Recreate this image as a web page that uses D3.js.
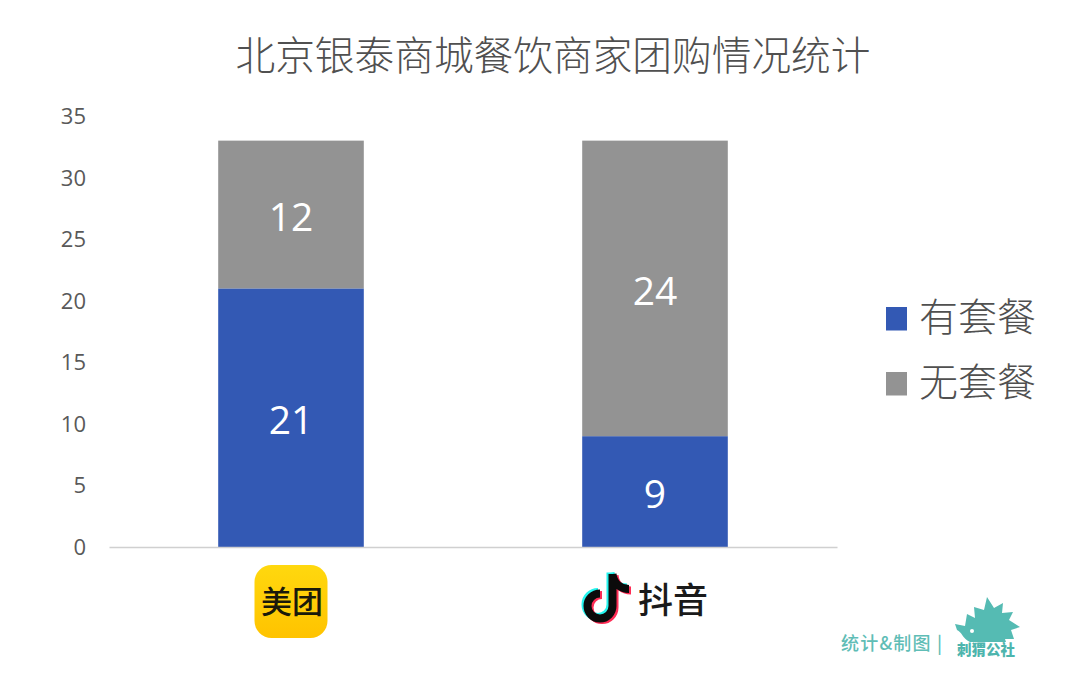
<!DOCTYPE html>
<meta charset="utf-8">
<style>
  html, body { margin: 0; background: #fff; }
  svg { display: block; }
  text { font-family: "Open Sans", "Noto Sans CJK SC", sans-serif; }
  .cjk { font-family: "Noto Sans CJK SC", sans-serif; }
  .axis--y .domain, .axis--y .tick line { display: none; }
  .axis--y text { font-size: 22px; fill: #595959; font-family: "Open Sans", sans-serif; }
  .axis--x .tick line, .axis--x .tick text { display: none; }
  .axis--x .domain { stroke: #d0d0d0; stroke-width: 1.5; }
</style>

<body>
  <script src="https://d3js.org/d3.v7.min.js"></script>
  <script>
    var categories = ['美团', '抖音'];
    var seriesNames = ['有套餐', '无套餐'];
    var withSet = [21, 9];
    var withoutSet = [12, 24];
    var yTicks = [0, 5, 10, 15, 20, 25, 30, 35];
    var title = '北京银泰商城餐饮商家团购情况统计';

    var colors = ['#3359B4', '#939393'];

    var margin = { top: 116, right: 235, bottom: 133, left: 109 },
      width = 1072 - margin.left - margin.right,
      height = 680 - margin.top - margin.bottom;

    var svg = d3.select('body').append('svg')
      .attr('width', 1072)
      .attr('height', 680);

    var g = svg.append('g')
      .attr('transform', 'translate(' + margin.left + ',' + margin.top + ')');

    var x = d3.scaleBand()
      .domain(categories)
      .range([0, width])
      .paddingInner(0.6)
      .paddingOuter(0.3);

    var y = d3.scaleLinear()
      .domain([0, 35])
      .range([height, 0]);

    // stack the two series
    var rows = categories.map(function (c, i) {
      return { cat: c, '有套餐': withSet[i], '无套餐': withoutSet[i] };
    });
    var stacked = d3.stack().keys(seriesNames)(rows);

    svg.append('text')
      .attr('class', 'cjk')
      .attr('x', 553)
      .attr('y', 70)
      .attr('text-anchor', 'middle')
      .style('font-size', '39.7px')
      .style('font-weight', 300)
      .style('fill', '#505050')
      .text(title);

    g.append('g')
      .attr('class', 'axis--y')
      .attr('transform', 'translate(-23,0.5)')
      .call(d3.axisLeft(y).tickValues(yTicks).tickSize(0).tickPadding(0));

    var layers = g.selectAll('.layer')
      .data(stacked)
      .enter()
      .append('g')
      .attr('class', 'layer')
      .style('fill', function (d, i) { return colors[i]; });

    layers.selectAll('rect')
      .data(function (d) { return d; })
      .enter()
      .append('rect')
      .attr('x', function (d) { return x(d.data.cat); })
      .attr('y', function (d) { return y(d[1]); })
      .attr('width', x.bandwidth())
      .attr('height', function (d) { return y(d[0]) - y(d[1]); });

    layers.selectAll('text')
      .data(function (d) { return d; })
      .enter()
      .append('text')
      .attr('x', function (d) { return x(d.data.cat) + x.bandwidth() / 2; })
      .attr('y', function (d) { return (y(d[0]) + y(d[1])) / 2; })
      .attr('dy', '0.43em')
      .attr('text-anchor', 'middle')
      .style('font-size', '39px')
      .style('fill', '#fff')
      .text(function (d) { return d[1] - d[0]; });

    g.append('g')
      .attr('class', 'axis--x')
      .attr('transform', 'translate(0,' + height + ')')
      .call(d3.axisBottom(x).tickSize(0).tickSizeOuter(0));

    // legend
    var legend = svg.selectAll('.legend')
      .data(seriesNames)
      .enter()
      .append('g')
      .attr('class', 'legend')
      .attr('transform', function (d, i) { return 'translate(886,' + (307 + i * 65) + ')'; });

    legend.append('rect')
      .attr('width', 21)
      .attr('height', 23.5)
      .style('fill', function (d, i) { return colors[i]; });

    legend.append('text')
      .attr('class', 'cjk')
      .attr('x', 33)
      .attr('y', 10)
      .attr('dy', '0.36em')
      .style('font-size', '39px')
      .style('font-weight', 300)
      .style('fill', '#505050')
      .text(function (d) { return d; });

    // meituan logo
    var defs = svg.append('defs');
    var grad = defs.append('linearGradient')
      .attr('id', 'mt')
      .attr('x1', 0).attr('y1', 0).attr('x2', 0).attr('y2', 1);
    grad.append('stop').attr('offset', 0).attr('stop-color', '#FFD80E');
    grad.append('stop').attr('offset', 1).attr('stop-color', '#FFC300');

    var mtX = margin.left + x(categories[0]) + x.bandwidth() / 2;
    svg.append('rect')
      .attr('x', mtX - 36.5)
      .attr('y', 565)
      .attr('width', 73)
      .attr('height', 73)
      .attr('rx', 17)
      .style('fill', 'url(#mt)');
    svg.append('text')
      .attr('class', 'cjk')
      .attr('x', mtX + 1)
      .attr('y', 602)
      .attr('dy', '0.37em')
      .attr('text-anchor', 'middle')
      .style('font-size', '31px')
      .style('font-weight', 500)
      .style('fill', '#1a1a0a')
      .text(categories[0]);

    // douyin logo: the note is drawn three times, offset
    var notePath = 'M 612.5 574 V 606 A 12.5 12.5 0 1 1 600 593.5 M 612.5 574 C 613.5 584 621 589 629 589';
    [['#25F4EE', -2, -1.5], ['#FE2C55', 2, 1.5], ['#0b0b0b', 0, 0]].forEach(function (n) {
      svg.append('path')
        .attr('d', notePath)
        .attr('transform', 'translate(' + n[1] + ',' + n[2] + ')')
        .style('fill', 'none')
        .style('stroke', n[0])
        .style('stroke-width', 8);
    });
    svg.append('text')
      .attr('class', 'cjk')
      .attr('x', 673)
      .attr('y', 600)
      .attr('dy', '0.37em')
      .attr('text-anchor', 'middle')
      .style('font-size', '35px')
      .style('font-weight', 500)
      .style('fill', '#1a1a1a')
      .text(categories[1]);

    // footer credit
    svg.append('text')
      .attr('class', 'cjk')
      .attr('x', 841)
      .attr('y', 650)
      .style('font-size', '18px')
      .style('letter-spacing', '1.2px')
      .style('font-weight', 500)
      .style('fill', '#5FBDB6')
      .text('统计&制图 |');

    svg.append('path')
      .attr('d', 'M955 624 L965 626 L967 614 L975 618 L974 607 L984 610 L987 597 L994 608 L1003 603 L1002 613 L1013 612 L1009 620 L1020 627 L1011 630 L1014 639 L1005 639 L1006 642 L970 642 C962 638 962 632 957 630 Z')
      .style('fill', '#55BBB3');
    svg.append('circle')
      .attr('cx', 972)
      .attr('cy', 631)
      .attr('r', 2)
      .style('fill', '#fff');
    svg.append('text')
      .attr('class', 'cjk')
      .attr('x', 986)
      .attr('y', 655)
      .attr('text-anchor', 'middle')
      .style('font-size', '14.5px')
      .style('font-weight', 900)
      .style('fill', '#4DB5AD')
      .text('刺猬公社');
  </script>
</body>
